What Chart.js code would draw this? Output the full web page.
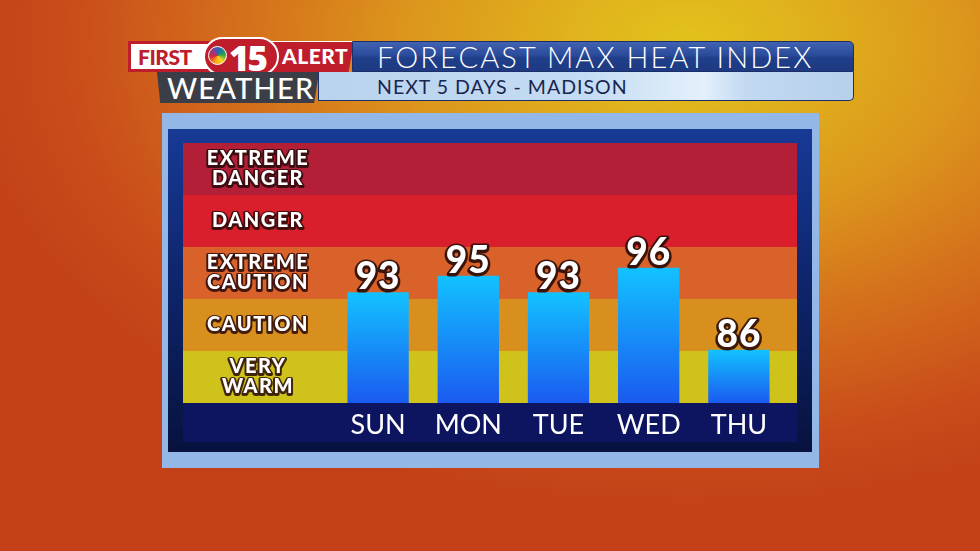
<!DOCTYPE html>
<html>
<head>
<meta charset="utf-8">
<script src="https://cdn.jsdelivr.net/npm/chart.js@4.4.1/dist/chart.umd.min.js"></script>
<style>
html, body { margin: 0; padding: 0; }
body {
	width: 980px; height: 551px; overflow: hidden; position: relative;
	font-family: Lato, "Open Sans", sans-serif;
	background: radial-gradient(ellipse 75% 85% at 70% 8%, #e2c21c 0%, #e0b21c 16%, #dc961c 38%, #d5731c 58%, #c94b1a 85%, #c34018 100%);
}
.abs { position: absolute; box-sizing: border-box; }
#first {
	left: 128px; top: 41px; width: 90px; height: 31px;
	background: #fff; border: 3px solid #bf1c2c; border-right: none;
}
#first span { position: absolute; left: 7px; top: 0px; font: 900 21px Lato, sans-serif; color: #bf1c2c; letter-spacing: -0.5px; }
#alert {
	left: 218px; top: 41px; width: 136px; height: 31px; background: #bf1c2c;
	clip-path: polygon(0 0, 100% 0, 96% 100%, 0 100%);
	border-top: 1px solid #fff;
}
#alert span { position: absolute; left: 64px; top: 1px; font: 900 21px Lato, sans-serif; color: #fff; letter-spacing: 0.5px; }
#logo {
	left: 203px; top: 37px; width: 76px; height: 39px; border-radius: 20px;
	background: #bf1c2c; border: 2px solid #fff;
}
#peacock {
	left: 208px; top: 46px; width: 19px; height: 19px; border-radius: 50%;
	background: conic-gradient(from 200deg, #f7a21b, #e2262f, #8a3e93, #1b6fb5, #2aa146, #f7d71c, #f7a21b);
	border: 1px solid #fff;
}
#logo .n { position: absolute; left: 24px; top: -5px; font: 900 35px "Open Sans", sans-serif; color: #fff; letter-spacing: -2px; }
#weather {
	left: 157px; top: 72px; width: 162px; height: 31px; background: #3b3e46;
	clip-path: polygon(0 0, 100% 0, 97% 100%, 2% 100%);
	color: #fff; font: 500 29px Lato, sans-serif; line-height: 31px; padding-left: 10px; letter-spacing: 1.2px;
}
#title {
	left: 352px; top: 41px; width: 502px; height: 31px; border-radius: 0 5px 0 0;
	background: linear-gradient(180deg, #4062b0 0%, #2b4c9c 45%, #203f8a 55%, #1d3a82 100%);
	border: 1px solid #1a2f6a; color: #fff; font: 300 29px Lato, sans-serif; line-height: 30px; padding-left: 24px; letter-spacing: 2.1px;
}
#sub {
	left: 318px; top: 72px; width: 536px; height: 29px; border-radius: 0 0 5px 0;
	background: linear-gradient(90deg, #b9d3ee 0%, #c4dcf3 50%, #e4f0fb 72%, #c2d9f1 80%, #b6cfeb 100%);
	border: 1px solid #1a2f6a; border-top: none; color: #1a2550; font: 400 19.5px Lato, sans-serif; line-height: 29px; padding-left: 58px; letter-spacing: 1px;
}
#frame { left: 162px; top: 113px; width: 657px; height: 355px; background: #93b8e8; }
#panel { left: 168px; top: 129px; width: 644px; height: 323px; background: linear-gradient(180deg, #173a96 0%, #0f2872 40%, #07123e 100%); }
#labelband { left: 183px; top: 403px; width: 614px; height: 39px; background: #0e1560; }
#wrap { left: 183px; top: 143px; width: 614px; height: 299px; }
</style>
</head>
<body>
<div class="abs" id="frame"></div>
<div class="abs" id="panel"></div>
<div class="abs" id="labelband"></div>
<div class="abs" id="alert"><span>ALERT</span></div>
<div class="abs" id="first"><span>FIRST</span></div>
<div class="abs" id="logo"><span class="n">15</span></div>
<div class="abs" id="peacock"></div>
<div class="abs" id="weather">WEATHER</div>
<div class="abs" id="title">FORECAST MAX HEAT INDEX</div>
<div class="abs" id="sub">NEXT 5 DAYS - MADISON</div>
<div class="abs" id="wrap"><canvas id="chart" width="614" height="299"></canvas></div>
<script>
var days = ["SUN", "MON", "TUE", "WED", "THU"];
var heatIndex = [93, 95, 93, 96, 86];

// heat categories, bottom to top
var bandNames = [["VERY", "WARM"], ["CAUTION"], ["EXTREME", "CAUTION"], ["DANGER"], ["EXTREME", "DANGER"]];
var bandEdges = [79.5, 85.84, 92.18, 98.52, 104.86, 111.2];
var bandColors = ["#cfc21b", "#d98f1d", "#d9612a", "#d81f2b", "#b21f36"];

var bandsPlugin = {
	id: "bands",
	beforeDraw: function(chart) {
		var c = chart.ctx, y = chart.scales.y;
		c.save();
		for (var i = 0; i < bandColors.length; i++) {
			var top = y.getPixelForValue(bandEdges[i + 1]);
			var bot = y.getPixelForValue(bandEdges[i]);
			c.fillStyle = bandColors[i];
			c.fillRect(0, top, chart.width, bot - top);

			c.font = "900 20px Lato, sans-serif";
			c.letterSpacing = "1.5px";
			c.textAlign = "center";
			c.textBaseline = "middle";
			c.lineJoin = "round";
			var lines = bandNames[i];
			var mid = (top + bot) / 2;
			for (var j = 0; j < lines.length; j++) {
				var ty = mid + (j - (lines.length - 1) / 2) * 20;
				c.lineWidth = 4;
				c.strokeStyle = "rgba(40,10,10,0.85)";
				c.strokeText(lines[j], 75, ty + 1);
				c.fillStyle = "#fff";
				c.fillText(lines[j], 75, ty);
			}
		}
		c.restore();
	},
	afterDatasetsDraw: function(chart) {
		var c = chart.ctx;
		var meta = chart.getDatasetMeta(0);
		c.save();
		c.font = "900 37px Lato, sans-serif";
		c.letterSpacing = "1px";
		c.textAlign = "center";
		c.textBaseline = "alphabetic";
		c.lineJoin = "round";
		meta.data.forEach(function(bar, i) {
			var v = String(heatIndex[i]);
			c.lineWidth = 5;
			c.strokeStyle = "rgba(40,12,8,0.9)";
			c.strokeText(v, bar.x, bar.y - 2);
			c.fillStyle = "#fff";
			c.fillText(v, bar.x, bar.y - 3);
		});
		c.restore();
	}
};

new Chart(document.getElementById("chart"), {
	type: "bar",
	data: {
		labels: days,
		datasets: [{
			data: heatIndex,
			backgroundColor: function(ctx) {
				var chart = ctx.chart;
				if (!chart.chartArea) return "#1a8cf8";
				var y = chart.scales.y;
				var top = y.getPixelForValue(ctx.raw);
				var g = chart.ctx.createLinearGradient(0, top, 0, chart.chartArea.bottom);
				g.addColorStop(0, "#13c2ff");
				g.addColorStop(1, "#1a5af0");
				return g;
			},
			borderWidth: 0,
			barPercentage: 0.68,
			categoryPercentage: 1
		}]
	},
	options: {
		responsive: false,
		animation: false,
		layout: { padding: { left: 150, right: 13, top: 0, bottom: 0 } },
		plugins: { legend: { display: false }, tooltip: { enabled: false } },
		scales: {
			x: {
				grid: { display: false, drawTicks: false },
				border: { display: false },
				ticks: { color: "#fff", font: { family: "Lato", size: 27, weight: 400 }, padding: 6 },
				afterFit: function(s) { s.height = 39; }
			},
			y: { display: false, min: 79.5, max: 111.2 }
		}
	},
	plugins: [bandsPlugin]
});
</script>
</body>
</html>
